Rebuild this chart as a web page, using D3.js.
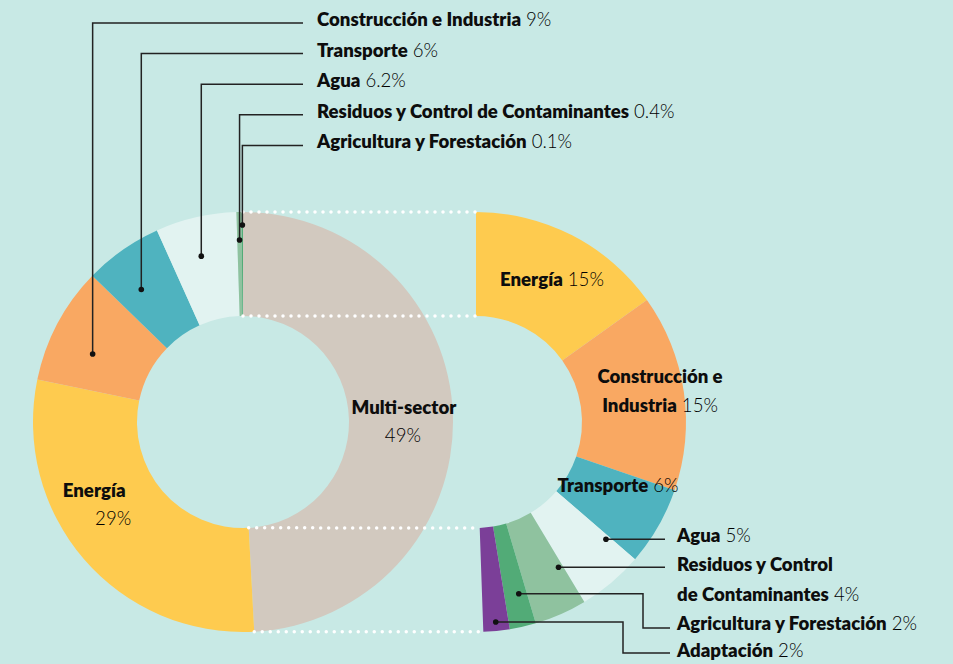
<!DOCTYPE html>
<html>
<head>
<meta charset="utf-8">
<script src="https://cdn.jsdelivr.net/npm/d3@7.9.0/dist/d3.min.js"></script>
<style>
  body { margin: 0; background: #c8e9e5; }
  svg { display: block; font-family: Lato, "Open Sans", sans-serif; }
</style>
</head>
<body>
<svg id="chart" width="953" height="664"></svg>
<script>
// share of climate finance by sector (%)
const sectors = ['Multi-sector', 'Energía', 'Construcción e Industria', 'Transporte', 'Agua',
  'Residuos y Control de Contaminantes', 'Agricultura y Forestación'];
const shares = [49, 29, 9, 6, 6.2, 0.4, 0.1];
const sectorColors = ['#d2c9bf', '#fecb4f', '#f9a862', '#4fb3bf', '#e2f3f1', '#8fc29f', '#52ab77'];

// how the multi-sector slice breaks down (%)
const multiSectors = ['Energía', 'Construcción e Industria', 'Transporte', 'Agua',
  'Residuos y Control de Contaminantes', 'Agricultura y Forestación', 'Adaptación'];
const multiShares = [15, 15, 6, 5, 4, 2, 2];
const multiColors = ['#fecb4f', '#f9a862', '#4fb3bf', '#e2f3f1', '#8fc29f', '#52ab77', '#7b3f98'];

const svg = d3.select('#chart');
const cy = 422, R = 210, r = 106;
const cxL = 243, cxR = 476;
const fontSize = 18.6;

const arc = d3.arc().innerRadius(r).outerRadius(R);
const pieL = d3.pie().sort(null)(shares);
// right half-ring, closes a little short of the bottom like the original
const pieR = d3.pie().sort(null).startAngle(0).endAngle(Math.PI * 178 / 180)(multiShares);

const pt = (a, rad) => [rad * Math.sin(a), -rad * Math.cos(a)];
// point inside slice d, fraction t along its angle, at radius rad
const inSlice = (d, t, rad) => pt(d.startAngle + t * (d.endAngle - d.startAngle), rad);

const gL = svg.append('g').attr('transform', `translate(${cxL},${cy})`);
const gR = svg.append('g').attr('transform', `translate(${cxR},${cy})`);

gL.selectAll('path').data(pieL).join('path')
  .attr('d', arc)
  .attr('fill', (d, i) => sectorColors[i]);

gR.selectAll('path').data(pieR).join('path')
  .attr('d', arc)
  .attr('fill', (d, i) => multiColors[i]);

// dotted connectors between the multi-sector slice and the breakdown
const mEnd = pieL[0].endAngle;
const rEnd = pieR[pieR.length - 1].endAngle;
const connectors = [[0, R, 0], [0, r, 0], [mEnd, R, rEnd], [mEnd, r, rEnd]];
svg.append('g').selectAll('line').data(connectors).join('line')
  .attr('x1', d => cxL + pt(d[0], d[1])[0])
  .attr('y1', d => cy + pt(d[0], d[1])[1])
  .attr('x2', d => cxR + pt(d[2], d[1])[0])
  .attr('y2', d => cy + pt(d[2], d[1])[1])
  .attr('stroke', '#fff')
  .attr('stroke-width', 3.5)
  .attr('stroke-linecap', 'round')
  .attr('stroke-dasharray', '0 8');

// text with bold name and light value
function label(sel, x, y, name, val, anchor) {
  const t = sel.append('text')
    .attr('x', x).attr('y', y)
    .attr('font-size', fontSize)
    .attr('text-anchor', anchor || 'start');
  if (name) t.append('tspan').attr('font-weight', 800).attr('fill', '#0d0d0d').text(name);
  if (val != null) t.append('tspan').attr('font-weight', 300).attr('fill', '#000')
    .text((name ? ' ' : '') + val + '%');
  return t;
}

const ann = svg.append('g');

// in-slice labels
let p = inSlice(pieL[0], 0.52, 161);
label(ann, cxL + p[0], cy + p[1] - 13.6, sectors[0], null, 'middle');
label(ann, cxL + p[0] - 1, cy + p[1] + 14.4, null, shares[0], 'middle');

p = inSlice(pieL[1], 0.59, 166);
label(ann, cxL + p[0] - 7, cy + p[1] - 11.3, sectors[1], null, 'middle');
label(ann, cxL + p[0] + 12, cy + p[1] + 16.7, null, shares[1], 'middle');

p = inSlice(pieR[0], 0.52, 160);
label(ann, cxR + p[0], cy + p[1] + 4.5, multiSectors[0], multiShares[0], 'middle');

p = inSlice(pieR[1], 0.5, 186);
label(ann, cxR + p[0], cy + p[1] - 12.5, 'Construcción e', null, 'middle');
label(ann, cxR + p[0], cy + p[1] + 16.5, 'Industria', multiShares[1], 'middle');

p = inSlice(pieR[2], 0.25, 156);
label(ann, cxR + p[0], cy + p[1] + 5, multiSectors[2], multiShares[2], 'middle');

// leaders for the thin slices of the left ring, stacked at the top
const leftLead = [
  { i: 2, t: 0.39, rad: 165 },
  { i: 3, t: 0.385, rad: 167 },
  { i: 4, t: 0.45, rad: 171 },
  { i: 5, t: 0.5, rad: 182 },
  { i: 6, t: 0.5, rad: 197 }
];
leftLead.forEach((o, k) => {
  const q = inSlice(pieL[o.i], o.t, o.rad);
  const x = cxL + q[0], y = cy + q[1];
  const base = 26 + 30.6 * k;
  ann.append('path')
    .attr('d', `M${x},${y}V${base - 3}H303`)
    .attr('fill', 'none').attr('stroke', '#222').attr('stroke-width', 1.5);
  ann.append('circle').attr('cx', x).attr('cy', y).attr('r', 2.8).attr('fill', '#111');
  label(ann, 317, base, sectors[o.i], shares[o.i]);
});

// leaders for the lower slices of the right ring
const rightLead = [
  { i: 3, t: 0.07, rad: 175 },
  { i: 4, t: 0.1, rad: 167 },
  { i: 5, t: 0.35, rad: 177, elbow: 643, row: 628 },
  { i: 6, t: 0.5, rad: 201, elbow: 623, row: 653 }
];
rightLead.forEach(o => {
  const q = inSlice(pieR[o.i], o.t, o.rad);
  const x = cxR + q[0], y = cy + q[1];
  const d = o.elbow ? `M${x},${y}H${o.elbow}V${o.row}H670` : `M${x},${y}H665`;
  ann.append('path').attr('d', d)
    .attr('fill', 'none').attr('stroke', '#222').attr('stroke-width', 1.5);
  ann.append('circle').attr('cx', x).attr('cy', y).attr('r', 2.8).attr('fill', '#111');
  if (o.i === 4) {
    label(ann, 677, y + 4, 'Residuos y Control', null);
    label(ann, 677, y + 34, 'de Contaminantes', multiShares[o.i]);
  } else {
    const base = o.elbow ? o.row + (o.i === 5 ? 2 : 4) : y + 3;
    label(ann, 677, base, multiSectors[o.i], multiShares[o.i]);
  }
});
</script>
</body>
</html>
